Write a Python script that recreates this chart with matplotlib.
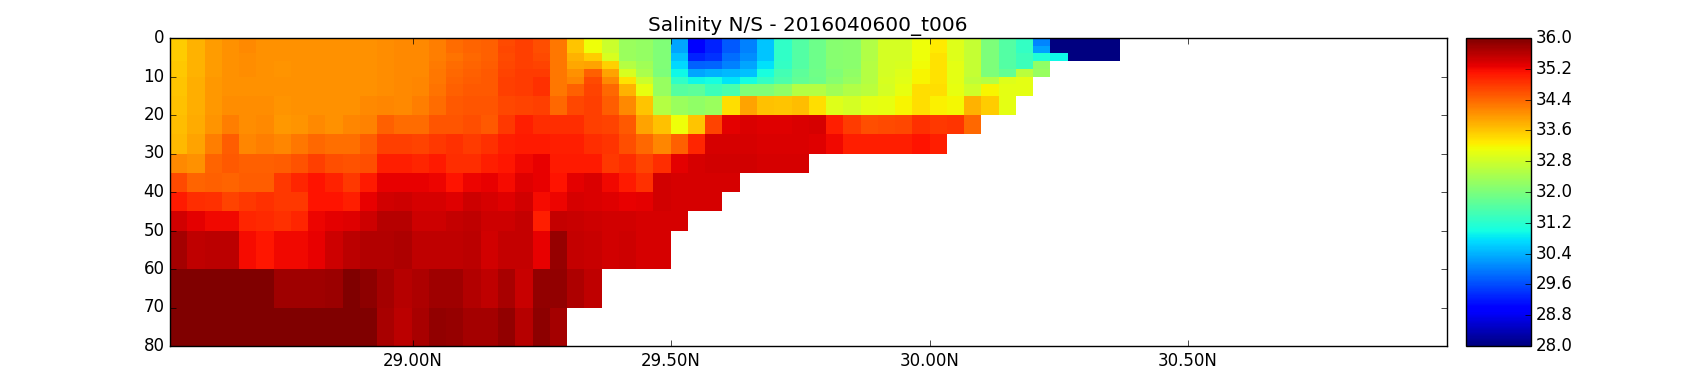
import numpy as np
import matplotlib
matplotlib.use('Agg')
import matplotlib.pyplot as plt

plt.style.use('classic')
plt.rcParams['font.family'] = ['DejaVu Sans']

# cell edges of the section
lat_start = 28.5304
lat_step = 0.0334
depth_edges = [0, 2, 4, 6, 8, 10, 12, 15, 20, 25, 30, 35, 40, 45, 50, 60, 70, 80]

# salinity, one list per depth layer, south to north
sal_00 = [33.55, 33.78, 33.95, 34.05, 34.12, 34.05, 34.05, 34.05, 34.05, 34.05, 34.05, 34.05, 34.08, 34.12,
          34.1, 34.2, 34.35, 34.42, 34.45, 34.65, 34.72, 34.62, 34.25, 33.62, 33.1, 32.75, 32.3, 32.22,
          32.05, 30.3, 28.95, 29.25, 29.7, 30.0, 30.55, 31.25, 31.6, 31.85, 32.1, 32.15, 32.5, 32.85,
          32.85, 33.1, 33.3, 32.95, 32.7, 32.0, 31.6, 31.3, 30.05, 28.0, 28.0, 28.0, 28.0]
sal_02 = [33.55, 33.78, 33.95, 34.05, 34.12, 34.05, 34.05, 34.05, 34.05, 34.05, 34.05, 34.05, 34.08, 34.12,
          34.1, 34.2, 34.35, 34.42, 34.45, 34.68, 34.72, 34.62, 34.25, 33.62, 33.1, 32.75, 32.3, 32.22,
          32.05, 30.3, 28.95, 29.25, 29.7, 30.0, 30.55, 31.25, 31.6, 31.85, 32.1, 32.15, 32.5, 32.85,
          32.85, 33.1, 33.3, 32.95, 32.7, 32.0, 31.6, 31.3, 30.25, 28.0, 28.0, 28.0, 28.0]
sal_04 = [33.55, 33.78, 33.95, 34.05, 34.08, 34.05, 34.05, 34.05, 34.05, 34.05, 34.05, 34.05, 34.08, 34.12,
          34.1, 34.2, 34.3, 34.4, 34.45, 34.65, 34.72, 34.65, 34.25, 33.75, 33.55, 32.9, 32.3, 32.22,
          32.05, 30.5, 29.25, 29.4, 29.85, 30.1, 30.55, 31.25, 31.6, 31.85, 32.1, 32.15, 32.5, 32.85,
          32.85, 33.1, 33.35, 32.95, 32.7, 32.0, 31.6, 31.4, 31.1, 30.95, 28.0, 28.0, 28.0]
sal_06 = [33.58, 33.78, 33.95, 34.05, 34.07, 34.05, 34.03, 34.05, 34.05, 34.05, 34.05, 34.05, 34.08, 34.12,
          34.12, 34.22, 34.35, 34.42, 34.47, 34.68, 34.72, 34.7, 34.25, 33.85, 33.9, 33.5, 32.55, 32.35,
          32.05, 30.7, 29.75, 29.8, 30.0, 30.3, 30.75, 31.3, 31.6, 31.85, 32.1, 32.15, 32.55, 32.85,
          32.9, 33.15, 33.35, 33.0, 32.7, 32.0, 31.6, 31.4, 32.2]
sal_08 = [33.58, 33.78, 33.95, 34.05, 34.07, 34.05, 34.03, 34.05, 34.05, 34.05, 34.05, 34.05, 34.08, 34.12,
          34.12, 34.25, 34.38, 34.45, 34.5, 34.7, 34.75, 34.78, 34.28, 34.05, 34.45, 33.9, 32.9, 32.45,
          32.0, 30.95, 30.3, 30.4, 30.45, 30.5, 31.05, 31.45, 31.7, 31.9, 32.05, 32.2, 32.55, 32.85,
          32.95, 33.2, 33.35, 33.0, 32.7, 32.0, 31.75, 32.6, 32.25]
sal_10 = [33.6, 33.8, 33.97, 34.05, 34.06, 34.05, 34.04, 34.05, 34.05, 34.05, 34.05, 34.05, 34.08, 34.12,
          34.15, 34.28, 34.42, 34.48, 34.52, 34.72, 34.75, 34.85, 34.28, 34.15, 34.65, 34.1, 33.35, 32.75,
          32.25, 31.25, 30.95, 31.0, 30.8, 31.0, 31.3, 31.55, 31.75, 31.85, 32.1, 32.25, 32.55, 32.9,
          32.98, 33.2, 33.35, 33.0, 32.65, 32.55, 32.95, 33.0]
sal_12 = [33.6, 33.8, 33.97, 34.05, 34.06, 34.05, 34.04, 34.05, 34.05, 34.05, 34.05, 34.05, 34.08, 34.12,
          34.15, 34.3, 34.45, 34.5, 34.52, 34.72, 34.75, 34.85, 34.25, 34.45, 34.7, 34.4, 33.78, 33.05,
          32.25, 31.65, 31.7, 31.4, 31.5, 32.05, 32.05, 32.2, 32.55, 32.55, 32.35, 32.5, 32.6, 32.85,
          33.05, 33.4, 33.4, 33.05, 32.8, 33.2, 33.0, 33.0]
sal_15 = [33.65, 33.8, 33.98, 34.08, 34.08, 34.07, 34.0, 34.05, 34.05, 34.05, 34.05, 34.1, 34.15, 34.1,
          34.2, 34.35, 34.5, 34.55, 34.55, 34.68, 34.7, 34.72, 34.4, 34.68, 34.72, 34.48, 34.1, 33.6,
          32.55, 32.3, 32.2, 32.3, 33.4, 33.9, 33.65, 33.6, 33.68, 33.4, 32.95, 32.85, 33.0, 33.05,
          33.2, 33.4, 33.22, 33.18, 33.75, 33.55, 33.02]
sal_20 = [33.68, 33.82, 34.03, 34.2, 34.07, 34.1, 33.98, 34.03, 34.12, 34.05, 34.14, 34.18, 34.45, 34.35,
          34.35, 34.55, 34.55, 34.6, 34.5, 34.8, 35.0, 34.9, 34.88, 34.88, 34.72, 34.7, 34.5, 33.9,
          33.65, 33.12, 33.6, 34.7, 35.3, 35.35, 35.33, 35.33, 35.35, 35.38, 35.0, 34.75, 34.62, 34.65,
          34.68, 34.85, 34.8, 34.82, 34.4]
sal_25 = [33.7, 33.88, 34.2, 34.48, 34.13, 34.2, 34.15, 34.28, 34.4, 34.32, 34.32, 34.48, 34.72, 34.72,
          34.7, 34.8, 34.85, 34.75, 34.85, 35.0, 35.05, 35.05, 35.03, 35.03, 34.9, 34.82, 34.62, 34.4,
          34.15, 34.45, 34.95, 35.38, 35.4, 35.4, 35.36, 35.36, 35.36, 35.34, 35.2, 35.0, 35.0, 35.0,
          35.02, 35.1, 35.0]
sal_30 = [34.1, 34.05, 34.42, 34.52, 34.45, 34.45, 34.47, 34.58, 34.72, 34.62, 34.58, 34.62, 35.0, 35.0,
          34.95, 35.05, 34.9, 34.9, 35.02, 35.08, 35.2, 35.28, 35.05, 35.05, 35.05, 34.8, 34.9, 34.7,
          34.9, 35.3, 35.4, 35.42, 35.42, 35.42, 35.38, 35.38, 35.38]
sal_35 = [34.65, 34.42, 34.45, 34.42, 34.48, 34.48, 34.8, 34.95, 35.12, 34.98, 34.8, 35.05, 35.25, 35.28,
          35.25, 35.22, 35.12, 35.22, 35.28, 35.18, 35.32, 35.25, 35.1, 35.3, 35.35, 35.2, 35.05, 34.85,
          35.42, 35.4, 35.4, 35.4, 35.4]
sal_40 = [35.05, 34.9, 34.85, 34.7, 34.8, 34.85, 34.8, 34.8, 35.12, 35.12, 35.02, 35.28, 35.42, 35.44,
          35.38, 35.38, 35.32, 35.45, 35.38, 35.33, 35.42, 35.18, 35.22, 35.38, 35.37, 35.32, 35.25, 35.3,
          35.42, 35.4, 35.4, 35.4]
sal_45 = [35.42, 35.3, 35.2, 35.2, 34.95, 34.92, 34.85, 34.95, 35.22, 35.3, 35.33, 35.45, 35.62, 35.62,
          35.45, 35.45, 35.5, 35.55, 35.45, 35.44, 35.52, 35.02, 35.52, 35.48, 35.44, 35.42, 35.42, 35.38,
          35.38, 35.38]
sal_50 = [35.72, 35.55, 35.58, 35.58, 35.18, 35.08, 35.2, 35.2, 35.25, 35.45, 35.58, 35.65, 35.65, 35.68,
          35.56, 35.56, 35.56, 35.58, 35.42, 35.5, 35.53, 35.28, 35.82, 35.52, 35.48, 35.42, 35.44, 35.4,
          35.4]
sal_60 = [35.97, 36.0, 36.0, 36.0, 36.0, 35.98, 35.78, 35.75, 35.75, 35.8, 36.0, 35.9, 35.72, 35.62,
          35.68, 35.78, 35.78, 35.65, 35.55, 35.7, 35.48, 35.85, 35.85, 35.68, 35.55]
sal_70 = [36.0, 36.0, 36.0, 36.0, 36.0, 36.0, 36.0, 36.0, 36.0, 36.0, 36.0, 36.0, 35.7, 35.58,
          35.7, 35.85, 35.82, 35.72, 35.72, 35.85, 35.62, 35.88, 35.72]

layers = [sal_00, sal_02, sal_04, sal_06, sal_08, sal_10, sal_12, sal_15, sal_20,
          sal_25, sal_30, sal_35, sal_40, sal_45, sal_50, sal_60, sal_70]

x_ticks = [29.0, 29.5, 30.0, 30.5]
x_labels = ['29.00N', '29.50N', '30.00N', '30.50N']
y_ticks = [0, 10, 20, 30, 40, 50, 60, 70, 80]
cbar_ticks = [28.0, 28.8, 29.6, 30.4, 31.2, 32.0, 32.8, 33.6, 34.4, 35.2, 36.0]

n_cols = max(len(row) for row in layers)
salt = np.full((len(layers), n_cols), np.nan)
for i, row in enumerate(layers):
    salt[i, :len(row)] = row
salt = np.ma.masked_invalid(salt)
lat_edges = lat_start + lat_step * np.arange(n_cols + 1)

W, H = 1700.0, 384.0
fig = plt.figure(figsize=(17, 3.84), dpi=100, facecolor='white')
ax = fig.add_axes([170 / W, 1 - 346 / H, (1446.5 - 170) / W, 308 / H])
cax = fig.add_axes([1466 / W, 1 - 346 / H, 64.5 / W, 308 / H])

mesh = ax.pcolormesh(lat_edges, depth_edges, salt, cmap='jet', vmin=28, vmax=36)
ax.set_xlim(lat_start, 31.0)
ax.set_ylim(80, 0)
ax.set_xticks(x_ticks)
ax.set_xticklabels(x_labels)
ax.set_yticks(y_ticks)
ax.tick_params(labelsize=12)
ax.set_title('Salinity N/S - 2016040600_t006', fontsize=14.4)

cb = fig.colorbar(mesh, cax=cax)
cb.set_ticks(cbar_ticks)
cb.set_ticklabels(['%.1f' % t for t in cbar_ticks])
cb.ax.tick_params(labelsize=12)

fig.savefig('out.png', dpi=100, facecolor='white')
